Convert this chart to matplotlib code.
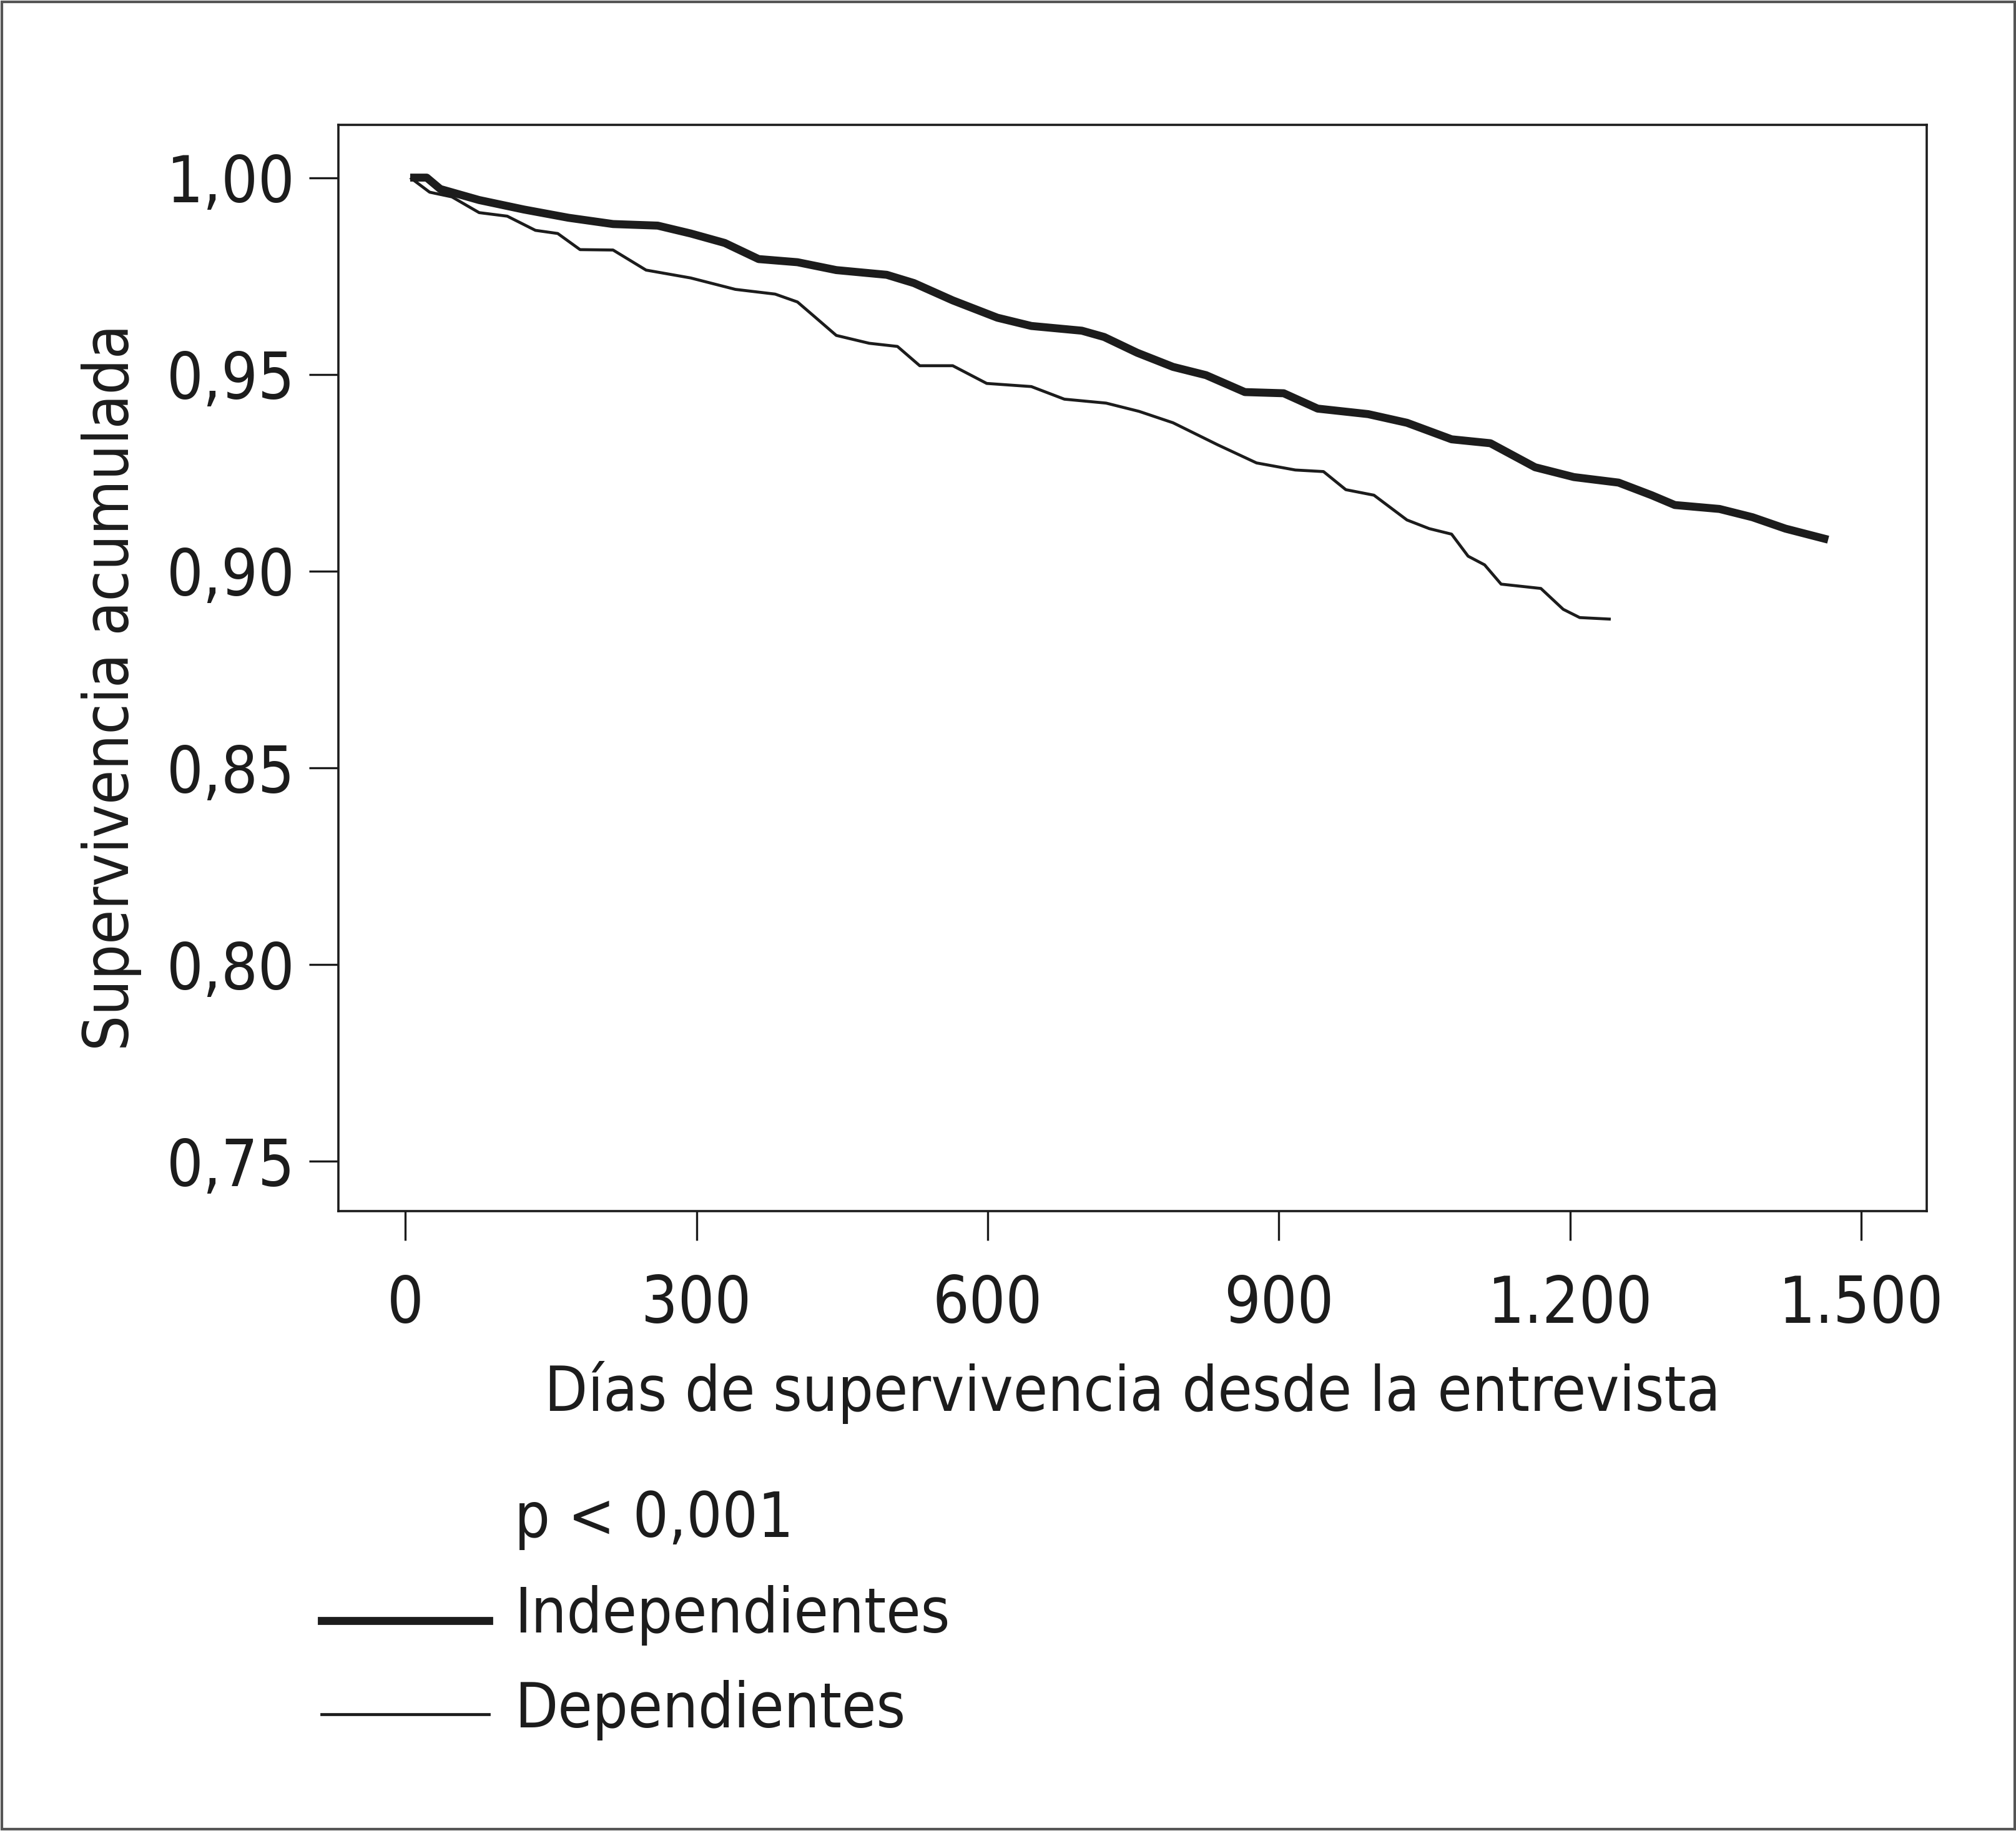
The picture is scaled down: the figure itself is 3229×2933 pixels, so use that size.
import matplotlib
matplotlib.use('Agg')
import matplotlib.pyplot as plt
from matplotlib import font_manager as fm
from matplotlib.lines import Line2D
from matplotlib.patches import Rectangle

# look for a narrow/condensed face, the original uses a condensed grotesque
fam, stretch = 'Liberation Sans', 'normal'
fonts = fm.fontManager.ttflist
for want in ['Liberation Sans Narrow', 'DejaVu Sans Condensed', 'Roboto Condensed',
             'Open Sans Condensed', 'Noto Sans Condensed']:
    hit = [f for f in fonts if f.name == want or
           (want.split()[-1].lower() in f.fname.lower() and want.split()[0] in f.name)]
    if hit:
        fam, stretch = hit[0].name, hit[0].stretch
        break
plt.rcParams['font.family'] = [fam, 'DejaVu Sans']
plt.rcParams['font.stretch'] = stretch

# Kaplan-Meier curves (days, cumulative survival)
days_ind = [5, 13, 22, 36, 76, 122, 168, 214, 260, 294, 329, 364, 404, 444, 496, 524,
            564, 610, 645, 697, 720, 754, 791, 825, 865, 905, 940, 992, 1032, 1078,
            1118, 1164, 1204, 1250, 1284, 1308, 1354, 1388, 1422, 1466]
surv_ind = [1.000, 1.000, 1.000, 0.9971, 0.9943, 0.9919, 0.9898, 0.9882, 0.9878, 0.9858,
            0.9834, 0.9793, 0.9785, 0.9765, 0.9753, 0.9732, 0.9688, 0.9644, 0.9623,
            0.9611, 0.9595, 0.9555, 0.9519, 0.9498, 0.9455, 0.9452, 0.9413, 0.9399,
            0.9377, 0.9335, 0.9325, 0.9264, 0.9239, 0.9225, 0.9193, 0.9168, 0.9158,
            0.9137, 0.9108, 0.9080]

days_dep = [5, 25, 48, 76, 105, 134, 157, 180, 214, 248, 294, 340, 381, 404, 421, 444,
            478, 507, 530, 564, 599, 645, 679, 722, 756, 791, 837, 877, 917, 946, 969,
            998, 1032, 1055, 1078, 1095, 1112, 1129, 1170, 1193, 1210, 1242]
surv_dep = [1.000, 0.9963, 0.9951, 0.9911, 0.9902, 0.9866, 0.9858, 0.9817, 0.9816, 0.9765,
            0.9745, 0.9716, 0.9704, 0.9684, 0.9648, 0.9599, 0.9579, 0.9571, 0.9522,
            0.9522, 0.9477, 0.9469, 0.9437, 0.9427, 0.9406, 0.9377, 0.9321, 0.9275,
            0.9257, 0.9253, 0.9207, 0.9193, 0.9130, 0.9108, 0.9094, 0.9038, 0.9016,
            0.8967, 0.8956, 0.8903, 0.8882, 0.8878]

x_ticks = [0, 300, 600, 900, 1200, 1500]
x_labels = ['0', '300', '600', '900', '1.200', '1.500']
y_ticks = [0.75, 0.80, 0.85, 0.90, 0.95, 1.00]
y_labels = ['0,75', '0,80', '0,85', '0,90', '0,95', '1,00']

ink = '#1c1c1c'
fs = 36      # axis labels and legend
fs_tick = 37
lw_thick, lw_thin = 4.6, 1.7

fig = plt.figure(figsize=(16.15, 14.665), dpi=200)
ax = fig.add_axes([0.1678, 0.3386, 0.9554 - 0.1678, 0.9318 - 0.3386])

ax.plot(days_ind, surv_ind, color=ink, lw=lw_thick, solid_joinstyle='round', solid_capstyle='butt')
ax.plot(days_dep, surv_dep, color=ink, lw=lw_thin, solid_joinstyle='round', solid_capstyle='butt')

ax.set_xlim(-69, 1567.5)
ax.set_ylim(0.7374, 1.0134)
ax.set_xticks(x_ticks)
ax.set_xticklabels(x_labels)
ax.set_yticks(y_ticks)
ax.set_yticklabels(y_labels)
ax.tick_params(length=17, width=1.2, labelsize=fs_tick, colors=ink)
ax.tick_params(axis='x', pad=19)
ax.tick_params(axis='y', pad=8)
for s in ax.spines.values():
    s.set_linewidth(1.3)
    s.set_color(ink)

ax.set_xlabel('Días de supervivencia desde la entrevista', fontsize=fs, color=ink, labelpad=14)
ax.set_ylabel('Supervivencia acumulada', fontsize=fs, color=ink)
ax.yaxis.set_label_coords(-0.124, 0.482)

# legend drawn by hand under the plot
fig.text(0.2551, 1 - 1182 * 2.06 / 2933, 'p < 0,001', fontsize=fs, color=ink, va='center')
fig.add_artist(Line2D([0.1595, 0.2425], [1 - 1260 * 2.06 / 2933] * 2, color=ink, lw=lw_thick))
fig.text(0.2551, 1 - 1256 * 2.06 / 2933, 'Independientes', fontsize=fs, color=ink, va='center')
fig.add_artist(Line2D([0.1595, 0.2425], [1 - 1333 * 2.06 / 2933] * 2, color=ink, lw=lw_thin))
fig.text(0.2551, 1 - 1330 * 2.06 / 2933, 'Dependientes', fontsize=fs, color=ink, va='center')

# thin frame around the whole picture
fig.add_artist(Rectangle((0.001, 0.001), 0.998, 0.998, transform=fig.transFigure,
                         fill=False, edgecolor='#555555', lw=1.5))

fig.savefig('out.png', dpi=200)
